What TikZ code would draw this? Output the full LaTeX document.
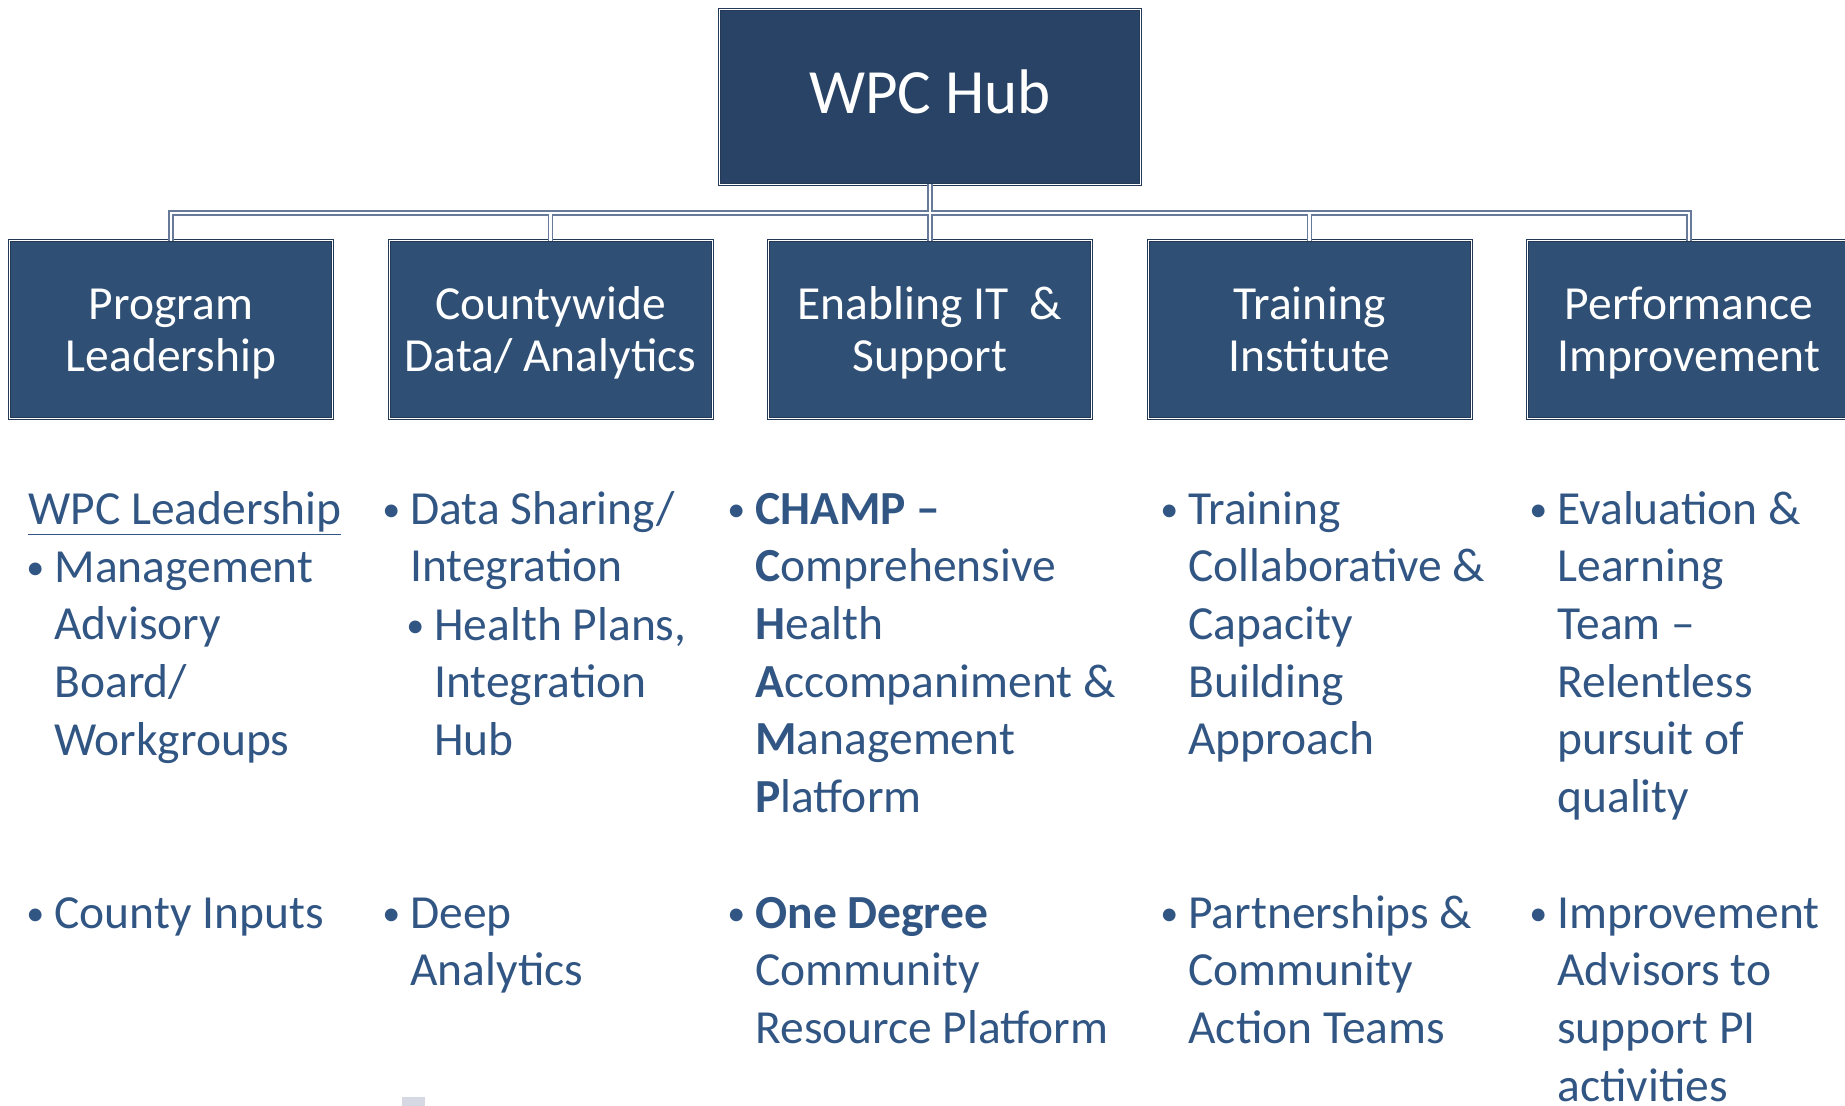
\documentclass[tikz,border=0pt]{standalone}
\usepackage{fontspec}
\setmainfont{Carlito}
\usetikzlibrary{positioning}

\definecolor{hubblue}{RGB}{40,67,101}
\definecolor{unitblue}{RGB}{47,79,116}
\definecolor{rimblue}{RGB}{36,57,86}
\definecolor{linkgray}{RGB}{104,122,153}
\definecolor{textblue}{RGB}{50,86,132}
\definecolor{scrap}{RGB}{214,217,228}

\newcommand{\bul}{\leavevmode\llap{\raisebox{1.5pt}{\fontsize{18}{18}\selectfont\textbullet}\hspace{5pt}}}
\newcommand{\block}[1]{\parbox[t]{200pt}{\raggedright #1}}

\begin{document}
\begin{tikzpicture}[x=0.5pt,y=-0.5pt,node distance=28.25pt,
    box/.style={draw=rimblue,double=white,double distance=0.5pt,line width=0.5pt,
      outer sep=0pt,text=white,align=center},
    hub/.style={box,fill=hubblue,minimum width=210.5pt,minimum height=87.5pt,
      text depth=5.5pt,font=\fontsize{31.5}{36}\selectfont},
    unit/.style={box,fill=unitblue,minimum width=161.5pt,minimum height=89pt,
      text height=42pt,text depth=0pt,font=\fontsize{23.75}{26}\selectfont},
    link/.style={draw=linkgray,double=white,double distance=1.2pt,line width=0.7pt},
    item/.style={anchor=base west,inner sep=0pt,text=textblue,
      font=\fontsize{23.75}{28.85}\selectfont}]
      \useasboundingbox (0,0) rectangle (1845,1106);

      \node[unit] (u1) at (171,330) {Program\\Leadership};
      \node[unit] (u2) [right = of u1] {Countywide\\Data/ Analytics};
      \node[unit] (u3) [right = of u2] {Enabling IT\ \ \&\\Support};
      \node[unit] (u4) [right = of u3] {Training\\Institute};
      \node[unit] (u5) [right = of u4] {Performance\\Improvement};
      \node[hub] (hub) [above = of u3] {WPC Hub};
      \coordinate[below = 14.25pt of hub] (bus);

      \draw[link] (u1.north) |- (bus) -| (u5.north)
        (u2.north) -- (u2.north |- bus)
        (u4.north) -- (u4.north |- bus)
        (u3.north) -- (u3.north |- bus)
        (hub.south) -- (bus);

      % Program Leadership
      \node[item] (lead) at (28,524) {\underline{WPC Leadership}};
      \node[item] (i11) at (54,582) {\block{\bul Management\\Advisory\\Board/\\Workgroups}};
      \node[item] (i12) at (54,928) {\block{\bul County Inputs}};

      % Countywide Data/ Analytics
      \node[item] (i21) at (410,524) {\block{\bul Data Sharing/\\Integration}};
      \node[item] (i22) at (434,640) {\block{\bul Health Plans,\\Integration\\Hub}};
      \node[item] (i23) at (410,928) {\block{\bul Deep\\Analytics}};

      % Enabling IT & Support
      \node[item] (i31) at (755,524) {\block{\bul\textbf{CHAMP --}\\\textbf{C}omprehensive\\
        \textbf{H}ealth\\\textbf{A}ccompaniment \&\\\textbf{M}anagement\\\textbf{P}latform}};
      \node[item] (i32) at (755,928) {\block{\bul\textbf{One Degree}\\Community\\Resource Platform}};

      % Training Institute
      \node[item] (i41) at (1188,524) {\block{\bul Training\\Collaborative \&\\Capacity\\Building\\Approach}};
      \node[item] (i42) at (1188,928) {\block{\bul Partnerships \&\\Community\\Action Teams}};

      % Performance Improvement
      \node[item] (i51) at (1557,524) {\block{\bul Evaluation \&\\Learning\\Team --\\Relentless\\pursuit of\\quality}};
      \node[item] (i52) at (1557,928) {\block{\bul Improvement\\Advisors to\\support PI\\activities}};

      \fill[scrap] (402,1097) rectangle (425,1106);
    \end{tikzpicture}
\end{document}
